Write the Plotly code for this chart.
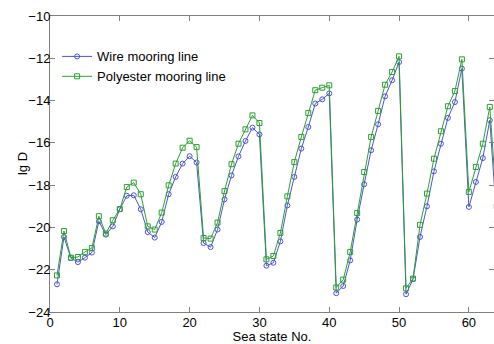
import plotly.graph_objects as go

sea_state = list(range(1, 65))
wire = [-22.69, -20.45, -21.45, -21.64, -21.43, -21.19, -19.71, -20.34, -19.95, -19.14,
        -18.50, -18.48, -19.14, -20.22, -20.48, -19.74, -18.43, -17.61, -16.98, -16.63,
        -16.93, -20.74, -20.93, -20.10, -18.67, -17.54, -16.64, -15.91, -15.28, -15.60,
        -21.81, -21.67, -20.66, -18.96, -17.61, -16.27, -15.25, -14.14, -13.94, -13.66,
        -23.11, -22.77, -21.56, -19.63, -17.96, -16.35, -15.12, -13.80, -13.04, -12.18,
        -23.16, -22.45, -20.45, -19.00, -17.35, -16.04, -14.82, -14.07, -12.49, -19.03,
        -17.85, -16.72, -14.93, -19.70]
polyester = [-22.27, -20.17, -21.43, -21.40, -21.16, -20.97, -19.47, -20.29, -19.66, -19.13,
             -18.09, -17.88, -18.43, -19.95, -20.10, -19.30, -18.01, -16.98, -16.23, -15.90,
             -16.20, -20.50, -20.53, -19.77, -18.28, -17.01, -16.04, -15.36, -14.70, -15.06,
             -21.51, -21.35, -20.26, -18.53, -16.91, -15.72, -14.59, -13.51, -13.39, -13.28,
             -22.84, -22.47, -21.16, -19.32, -17.38, -15.72, -14.49, -13.25, -12.65, -11.91,
             -22.88, -22.42, -19.88, -18.40, -16.75, -15.45, -14.27, -13.55, -12.05, -18.32,
             -17.14, -16.04, -14.30, -19.00]
x_ticks = [0, 10, 20, 30, 40, 50, 60]
y_ticks = [-10, -12, -14, -16, -18, -20, -22, -24]

blue = "rgb(75,85,205)"
green = "rgb(45,160,50)"

fig = go.Figure()
fig.add_trace(go.Scatter(x=sea_state, y=wire, mode="lines+markers", name="Wire mooring line",
                         line=dict(color=blue, width=1),
                         marker=dict(symbol="circle-open", size=5, color=blue, line=dict(width=1))))
fig.add_trace(go.Scatter(x=sea_state, y=polyester, mode="lines+markers", name="Polyester mooring line",
                         line=dict(color=green, width=1),
                         marker=dict(symbol="square-open", size=5, color=green, line=dict(width=1))))

axis_common = dict(showgrid=False, zeroline=False, showline=True, linecolor="#808080", linewidth=1,
                   mirror="ticks", ticks="inside", ticklen=5, tickcolor="#808080",
                   tickfont=dict(family="Liberation Sans, Arial", size=13, color="black"))
fig.update_layout(
    width=494, height=344,
    margin=dict(l=50, r=0, t=16, b=32),
    plot_bgcolor="white", paper_bgcolor="white",
    font=dict(family="Liberation Sans, Arial", size=13, color="black"),
    xaxis=dict(range=[0, 63.6], tickvals=x_ticks, ticklabelstandoff=-2,
               title=dict(text="Sea state No.", standoff=4, font=dict(size=13)), **axis_common),
    yaxis=dict(range=[-24, -10], tickvals=y_ticks, ticklabelstandoff=-4, **axis_common),
    legend=dict(x=0.016, y=0.914, xanchor="left", yanchor="top", bgcolor="rgba(0,0,0,0)",
                font=dict(size=13), tracegroupgap=0, itemwidth=30),
    showlegend=True,
    annotations=[dict(text="lg D", xref="paper", yref="paper", x=-0.063, y=0.5,
                      xanchor="center", yanchor="middle", textangle=-90, showarrow=False,
                      font=dict(size=13, color="black"))],
)
fig.write_html("out.html", config={"displayModeBar": False},
               post_script="document.body.style.margin='0';document.body.style.overflow='hidden';")
